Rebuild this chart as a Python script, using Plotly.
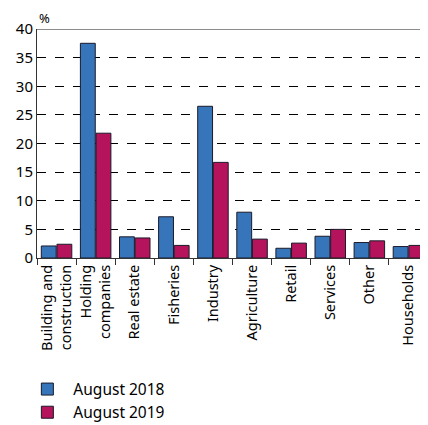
import plotly.graph_objects as go

categories = ["Building and<br>construction", "Holding<br>companies", "Real estate", "Fisheries",
              "Industry", "Agriculture", "Retail", "Services", "Other", "Households"]
aug_2018 = [2.1, 37.5, 3.7, 7.2, 26.5, 8.0, 1.7, 3.8, 2.7, 2.0]
aug_2019 = [2.4, 21.8, 3.5, 2.2, 16.7, 3.3, 2.6, 5.0, 3.0, 2.2]
y_ticks = [0, 5, 10, 15, 20, 25, 30, 35, 40]

FONT = "Noto Sans"
fig = go.Figure()
fig.add_bar(x=categories, y=aug_2018, name="August 2018",
            marker=dict(color="#3775BA", line=dict(color="#1a1a2a", width=1)))
fig.add_bar(x=categories, y=aug_2019, name="August 2019",
            marker=dict(color="#B5135B", line=dict(color="#1a1a2a", width=1)))

# page body has an 8px default margin, so the figure is sized to fit the 428x425 window
fig.update_layout(
    width=420, height=417,
    margin=dict(l=29, r=0, t=21, b=167, autoexpand=False),
    paper_bgcolor="white", plot_bgcolor="white",
    font=dict(family=FONT, size=14, color="black"),
    barmode="group", bargap=0.2, bargroupgap=0.05,
    showlegend=True,
    legend=dict(orientation="v", x=-0.04, xanchor="left", y=-0.5, yanchor="top",
                font=dict(size=15.5), traceorder="normal", itemwidth=42,
                tracegroupgap=6),
    xaxis=dict(showline=True, linecolor="#333", linewidth=1,
               ticks="outside", tickson="boundaries", ticklen=6, tickcolor="#333",
               tickangle=-90, showgrid=False, tickfont=dict(size=14.5)),
    yaxis=dict(range=[0, 40], tickvals=y_ticks, showline=True, linecolor="#333",
               linewidth=1, showgrid=True, gridcolor="black", griddash="dash",
               gridwidth=1, zeroline=False, ticks="", tickfont=dict(size=15)),
)
fig.add_shape(type="line", xref="paper", yref="y", x0=0, x1=1, y0=40, y1=40,
              line=dict(color="#666", width=1.5))
fig.add_annotation(text="%", xref="paper", yref="paper", x=0, y=1, xanchor="left",
                   yanchor="bottom", yshift=0, showarrow=False, font=dict(size=13))
fig.write_html("out.html")
